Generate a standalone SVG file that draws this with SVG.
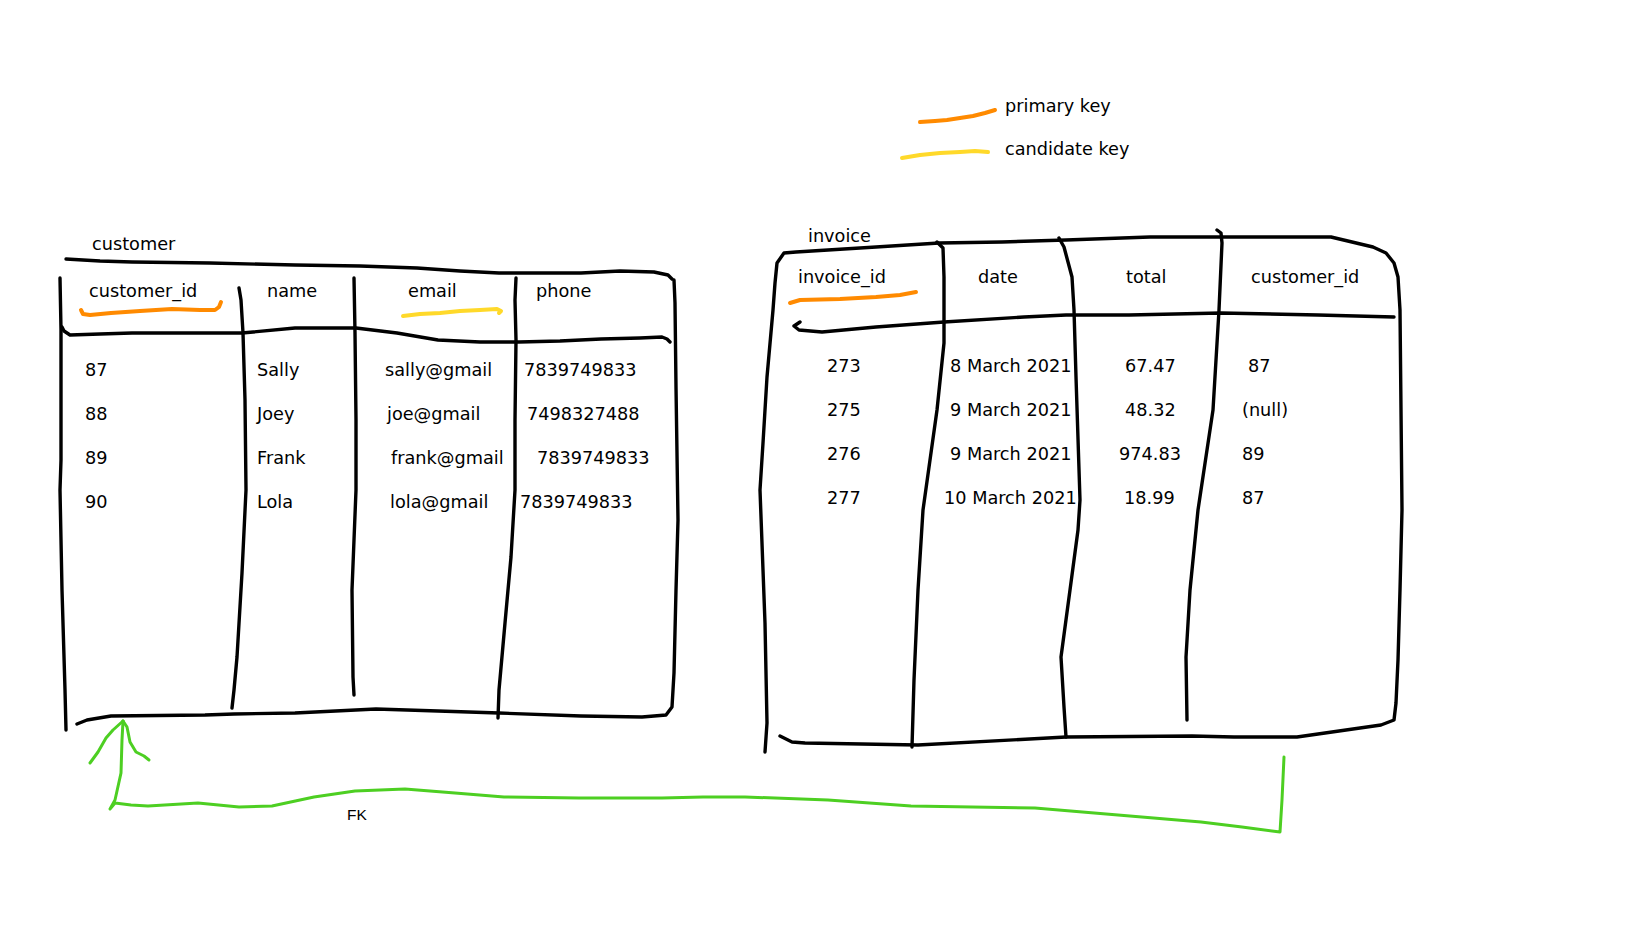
<svg xmlns="http://www.w3.org/2000/svg" width="1648" height="927" viewBox="0 0 1648 927">
<style>
.t{font-family:"DejaVu Sans","Verdana",sans-serif;font-size:17.7px;fill:#000}
.fk{font-family:"Liberation Sans",Arial,sans-serif;font-size:15.5px;fill:#000}
.ln{fill:none;stroke:#000;stroke-width:3.4;stroke-linecap:round;stroke-linejoin:round}
.pk{fill:none;stroke:#ff8a00;stroke-width:4;stroke-linecap:round;stroke-linejoin:round}
.ck{fill:none;stroke:#ffd92a;stroke-width:4;stroke-linecap:round;stroke-linejoin:round}
.fkl{fill:none;stroke:#4dcf22;stroke-width:3;stroke-linecap:round;stroke-linejoin:round}
</style>
<rect width="1648" height="927" fill="#fff"/>

<g id="legend">
<polyline class="pk" points="920,122 935,121 947,120 960,118 973,116 985,113 995,110"/>
<text class="t" x="1005" y="112">primary key</text>
<polyline class="ck" points="902,158 920,155 940,153 960,152 975,151 988,152"/>
<text class="t" x="1005" y="155">candidate key</text>
</g>

<g id="customer">
<text class="t" x="92" y="250">customer</text>
<polyline class="ln" points="66,259 100,261 132,262 210,263 295,265 360,266 417,268 460,271 499,273 540,273 581,273 620,271 654,272 668,275 672,279"/>
<polyline class="ln" points="60,278 61,330 61,400 61,460 60,490 62,590 65,690 66,730"/>
<polyline class="ln" points="674,280 675,303 676,387 678,520 676,590 674,673 672,707 666,715 642,717 581,716 499,713 438,711 376,709 295,713 234,714 205,715 111,716 87,720 77,724"/>
<polyline class="ln" points="62,327 64,331 70,335 100,334 132,333 190,333 242,333 295,328 356,328 397,333 438,340 480,342 519,342 560,341 601,339 640,338 662,337 667,339 670,342"/>
<polyline class="ln" points="239,288 241,300 243,333 245,400 246,490 242,573 237,657 234,690 232,708"/>
<polyline class="ln" points="354,278 355,333 356,420 356,490 354,540 352,590 353,677 354,695"/>
<polyline class="ln" points="516,278 515,300 516,340 515,420 515,490 511,557 505,623 499,690 498,718"/>
<polyline class="pk" points="81,310 83,314 90,315 111,313 140,311 172,309 200,310 215,310 219,307 221,302"/>
<polyline class="ck" points="403,316 420,314 440,313 460,311 480,310 497,309 501,311 499,313"/>
<text class="t" x="89" y="297">customer_id</text>
<text class="t" x="267" y="297">name</text>
<text class="t" x="408" y="297">email</text>
<text class="t" x="536" y="297">phone</text>
<text class="t" x="85" y="376">87</text>
<text class="t" x="257" y="376">Sally</text>
<text class="t" x="385" y="376">sally@gmail</text>
<text class="t" x="524" y="376">7839749833</text>
<text class="t" x="85" y="420">88</text>
<text class="t" x="257" y="420">Joey</text>
<text class="t" x="387" y="420">joe@gmail</text>
<text class="t" x="527" y="420">7498327488</text>
<text class="t" x="85" y="464">89</text>
<text class="t" x="257" y="464">Frank</text>
<text class="t" x="391" y="464">frank@gmail</text>
<text class="t" x="537" y="464">7839749833</text>
<text class="t" x="85" y="508">90</text>
<text class="t" x="257" y="508">Lola</text>
<text class="t" x="390" y="508">lola@gmail</text>
<text class="t" x="520" y="508">7839749833</text>
</g>

<g id="invoice">
<text class="t" x="808" y="242">invoice</text>
<polyline class="ln" points="765,752 767,723 765,623 760,490 763,443 767,377 773,310 775,283 777,263 784,253 796,252 876,247 939,243 1002,242 1066,240 1150,237 1217,237 1331,237 1373,247 1386,253 1394,263 1398,277 1400,310 1402,510 1400,590 1398,660 1396,703 1394,720 1381,725 1297,737 1234,737 1192,736 1066,737 918,745 805,743 792,742 780,736"/>
<polyline class="ln" points="800,322 794,326 799,330 822,332 876,327 944,322 1024,317 1066,315 1129,315 1221,313 1318,315 1394,317"/>
<polyline class="ln" points="937,242 943,248 944,277 944,343 937,410 923,510 918,590 914,680 912,747"/>
<polyline class="ln" points="1059,238 1064,247 1072,277 1074,310 1076,377 1080,500 1078,530 1070,590 1061,657 1064,707 1066,737"/>
<polyline class="ln" points="1217,230 1221,233 1222,243 1219,310 1213,410 1198,510 1190,590 1186,657 1187,720"/>
<polyline class="pk" points="790,303 800,300 840,299 876,297 900,295 916,292"/>
<text class="t" x="798" y="283">invoice_id</text>
<text class="t" x="978" y="283">date</text>
<text class="t" x="1126" y="283">total</text>
<text class="t" x="1251" y="283">customer_id</text>
<text class="t" x="827" y="372">273</text>
<text class="t" x="950" y="372">8 March 2021</text>
<text class="t" x="1125" y="372">67.47</text>
<text class="t" x="1248" y="372">87</text>
<text class="t" x="827" y="416">275</text>
<text class="t" x="950" y="416">9 March 2021</text>
<text class="t" x="1125" y="416">48.32</text>
<text class="t" x="1242" y="416">(null)</text>
<text class="t" x="827" y="460">276</text>
<text class="t" x="950" y="460">9 March 2021</text>
<text class="t" x="1119" y="460">974.83</text>
<text class="t" x="1242" y="460">89</text>
<text class="t" x="827" y="504">277</text>
<text class="t" x="944" y="504">10 March 2021</text>
<text class="t" x="1124" y="504">18.99</text>
<text class="t" x="1242" y="504">87</text>
</g>

<g id="connectors">
<polyline class="fkl" points="1284,757 1282,800 1280,832 1242,827 1201,822 1118,815 1035,808 911,806 828,800 745,797 703,797 662,798 579,798 504,797 455,793 405,789 355,791 314,797 272,806 239,807 198,803 148,806 131,805 115,803 110,809 115,800 121,773 122,740 123,721"/>
<polyline class="fkl" points="123,721 113,730 106,738 98,752 90,763"/>
<polyline class="fkl" points="123,721 127,727 130,742 136,752 144,756 149,760"/>
<text class="fk" x="347" y="820">FK</text>
</g>
</svg>
